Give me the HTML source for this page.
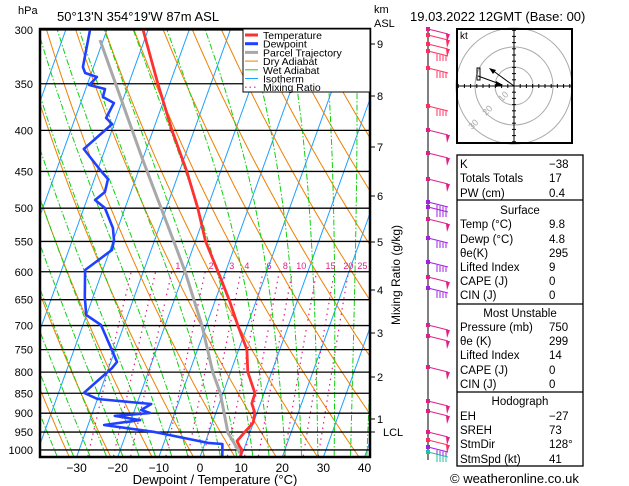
<!DOCTYPE html>
<html><head><meta charset="utf-8"><style>
html,body{margin:0;padding:0;background:#fff;}
svg{display:block;font-family:"Liberation Sans",sans-serif;}
</style></head><body>
<svg id="c" width="629" height="486" viewBox="0 0 629 486"></svg>
<script>
const isobarLevels=[300,350,400,450,500,550,600,650,700,750,800,850,900,950,1000];
const tempP=[300,350,400,450,500,550,600,650,700,750,800,850,875,900,925,950,975,990,1000,1020];
const tempT=[-51.2,-42.9,-35.4,-28.2,-22.3,-17.5,-11.8,-6.7,-2.3,2.0,4.2,7.8,7.9,9.5,9.9,8.7,7.6,8.7,9.6,9.8];
const dewP=[300,333.6,339.4,343.3,351.2,355.3,363.5,369.8,386.1,392.8,422,449.4,459.9,477.3,488.4,499.8,529.3,547.7,563.6,597,645,679,699,777,791,849,864,876.5,891.8,899.5,907,918,931,950,980,983,1020];
const dewT=[-64.1,-62.6,-61.5,-58.3,-59.5,-55.3,-55.1,-51.9,-52.5,-50.5,-55.2,-49.1,-46.7,-46.3,-48.0,-44.9,-41.2,-39.9,-39.5,-44.3,-42.0,-40.1,-35.6,-28.5,-29.2,-33.8,-30.0,-16.5,-18.4,-16.0,-24.3,-17.8,-26.1,-13.1,0.7,4.3,5.4];
const parcelP=[308.7,435.5,563.6,600.3,699,802,849,952.5,1009];
const parcelT=[-60.8,-39.9,-23.7,-19.8,-11.1,-4.2,-0.7,4.7,9.4];
const tempTicks=[-30,-20,-10,0,10,20,30,40];
const mixRatios=[0.4,0.7,1,2,3,4,6,8,10,15,20,25];
const mixLabels=["","","1","2","3","4","6","8","10","15","20","25"];
const kmLabels=["9","8","7","6","5","4","3","2","1"];
const kmY=[44,96,147,196,242,290,333,377,419];

const NS="http://www.w3.org/2000/svg";
const svg=document.getElementById('c');
function Y(p){return 30+348.8*Math.log(p/300);}
function X(T,p){return 200+4.114*T+0.36*(457-Y(p));}
function mk(tag,attrs,parent){const e=document.createElementNS(NS,tag);for(const k in attrs)e.setAttribute(k,attrs[k]);(parent||svg).appendChild(e);return e;}
function txt(s,x,y,attrs,parent){const e=mk('text',Object.assign({x:x,y:y,'font-size':12,fill:'#000'},attrs||{}),parent);e.textContent=s;return e;}
function pts(arr){return arr.map(a=>a[0].toFixed(1)+','+a[1].toFixed(1)).join(' ');}

const defs=mk('defs',{});
const cp=mk('clipPath',{id:'plot'},defs);
mk('rect',{x:40,y:29,width:330,height:428},cp);
const g=mk('g',{'clip-path':'url(#plot)'});



for(let T=-140;T<=40;T+=10){
  const l=mk('line',{x1:X(T,1050),y1:Y(1050),x2:X(T,290),y2:Y(290),stroke:'#1ea0ff','stroke-width':1},g);
  
  
}
for(let th=220;th<=520;th+=10){
  const a=[];for(let p=1050;p>=290;p-=10){a.push([X(th*Math.pow(p/1000,0.2857)-273.15,p),Y(p)]);}
  const l=mk('polyline',{points:pts(a),fill:'none',stroke:'#f08000','stroke-width':1},g);
  
  
}
function es(T){return 6.112*Math.exp(17.67*T/(T+243.5));}
function dTdp(T,p){const Tk=T+273.15;const e=es(T);const rs=0.622*e/(p-e);
  return (287*Tk+2.5e6*rs)/(p*(1004+2.5e6*2.5e6*rs*0.622/(287*Tk*Tk)));}
for(let T0=-40;T0<=40;T0+=4){
  let a=[];let T=T0;
  for(let p=1000;p<1050;p+=5){T+=dTdp(T,p)*5;}
  for(let p=1050;p>=290;p-=5){a.push([X(T,p),Y(p)]);T-=dTdp(T,p)*5;}
  const l=mk('polyline',{points:pts(a),fill:'none',stroke:'#10d010','stroke-width':1,'stroke-dasharray':'6,2,1.5,2'},g);
  
  
}
mixRatios.forEach((w,i)=>{
  const a=[];for(let p=1050;p>=600;p-=10){const e=w*p/(622+w);const L=Math.log(e/6.112);a.push([X(243.5*L/(17.67-L),p),Y(p)]);}
  const l=mk('polyline',{points:pts(a),fill:'none',stroke:'#e0208a','stroke-width':1.2,'stroke-dasharray':'1.5,4'},g);
  
  
  if(mixLabels[i]){const off=w>=15?14:(w>=10?9:6);
    const t=txt(mixLabels[i],a[a.length-1][0]+off,Y(600)-3,{'font-size':9,fill:'#e0208a','text-anchor':'middle'});
    
    }
});
isobarLevels.forEach(p=>{
  const l=mk('line',{x1:40,x2:370,y1:Y(p),y2:Y(p),stroke:'#000','stroke-width':1.3},g);
  
  
  const t=txt(String(p),33,Y(p)+4,{'text-anchor':'end','font-size':11});
  
  
});
function prof(P,T,col,w,name){const a=P.map((p,i)=>[X(T[i],p),Y(p)]);
  const l=mk('polyline',{points:pts(a),fill:'none',stroke:col,'stroke-width':w,'stroke-linejoin':'round'},g);
  
  }
prof(parcelP,parcelT,'#a8a8a8',3,'parcel-trajectory');
prof(dewP,dewT,'#2040ff',2.6,'dewpoint-line');
prof(tempP,tempT,'#ff3030',2.8,'temperature-line');

const bd=mk('rect',{x:40,y:29,width:330,height:428,fill:'none',stroke:'#000','stroke-width':2.5});



const lg=mk('g',{});


mk('rect',{x:243,y:29,width:127,height:63,fill:'#fff',stroke:'#000','stroke-width':1},lg);
[['Temperature','#ff3030',3,''],['Dewpoint','#2040ff',3,''],['Parcel Trajectory','#a8a8a8',3,''],['Dry Adiabat','#f08000',1,''],['Wet Adiabat','#10d010',1,''],['Isotherm','#1ea0ff',1,''],['Mixing Ratio','#e0208a',1.2,'1.5,3']].forEach((e,i)=>{
  const y=35+i*8.7;
  const l=mk('line',{x1:245,x2:258,y1:y,y2:y,stroke:e[1],'stroke-width':e[2],'stroke-dasharray':e[3]},lg);
  
  
  txt(e[0],263,y+4,{'font-size':10.5},lg);
});

tempTicks.forEach(T=>{const t=txt(String(T).replace('-','\u2212'),200+4.114*T,472,{'text-anchor':'middle','font-size':12});
  
  });
const xt=txt('Dewpoint / Temperature (\u00B0C)',215,484,{'text-anchor':'middle','font-size':13});


txt('hPa',18,14,{'font-size':11});
txt('50\u00B013\'N  354\u00B019\'W  87m  ASL',57,21,{'font-size':13});
txt('km',374,13,{'font-size':11});
txt('ASL',374,27,{'font-size':11});
txt('19.03.2022  12GMT  (Base: 00)',410,21,{'font-size':13});
kmLabels.forEach((k,i)=>{mk('line',{x1:370,x2:375,y1:kmY[i],y2:kmY[i],stroke:'#000'});
  const t=txt(k,377,kmY[i]+4,{'font-size':11});
  
  });
mk('line',{x1:370,x2:375,y1:432,y2:432,stroke:'#000'});
txt('LCL',383,436,{'font-size':11});
const mr=txt('Mixing Ratio (g/kg)',0,0,{'font-size':12,'text-anchor':'middle',transform:'translate(400,275) rotate(-90)'});



const wb=mk('g',{});


mk('line',{x1:428,x2:428,y1:29,y2:460,stroke:'#000','stroke-width':1},wb);
const barbs=[[29,'f','#e0208a'],[35,'f','#ff3060'],[44,'f','#ff3060'],[51,'b','#ff3060'],[68,'b','#ff3060'],[106,'b','#ff3060'],[130,'f','#e0208a'],[153,'f','#e0208a'],[179,'f','#e0208a'],[202,'b','#a020e0'],[207,'b','#a020e0'],[219,'f','#e0208a'],[238,'b','#a020e0'],[262,'b','#a020e0'],[277,'f','#e0208a'],[288,'b','#a020e0'],[325,'f','#e0208a'],[336,'f','#e0208a'],[367,'f','#e0208a'],[401,'f','#e0208a'],[411,'f','#e0208a'],[432,'f','#e0208a'],[440,'f','#ff3060'],[447,'b','#a020e0'],[452,'b','#20c0a0']];
barbs.forEach(b=>{const y=b[0],c=b[2];
  mk('rect',{x:426,y:y-2,width:4,height:4,fill:c},wb);
  mk('line',{x1:428,y1:y,x2:448,y2:y+5,stroke:c,'stroke-width':1},wb);
  if(b[1]==='f'){mk('polygon',{points:`${446},${y+5} ${450},${y+5} ${447},${y+13}`,fill:c},wb);}
  else{for(let k=0;k<4;k++){mk('line',{x1:437+k*3,y1:y+3+k*0.7,x2:437+k*3,y2:y+10,stroke:c,'stroke-width':1},wb);}}
});

const hg=mk('g',{});


const hx=514,hy=86;
[19,39,58].forEach(r=>mk('circle',{cx:hx,cy:hy,r:r,fill:'none',stroke:'#aaa','stroke-width':1},hg));
mk('rect',{x:457,y:29,width:115,height:114,fill:'none',stroke:'#000','stroke-width':2},hg);
mk('line',{x1:457,x2:572,y1:hy,y2:hy,stroke:'#000','stroke-width':1},hg);
mk('line',{x1:hx,x2:hx,y1:29,y2:143,stroke:'#000','stroke-width':1},hg);
for(let i=-9;i<=9;i++){mk('line',{x1:hx+i*6.2,x2:hx+i*6.2,y1:hy-2,y2:hy+2,stroke:'#000'},hg);mk('line',{y1:hy+i*6.2,y2:hy+i*6.2,x1:hx-2,x2:hx+2,stroke:'#000'},hg);}
txt('kt',460,39,{'font-size':10},hg);
mk('line',{x1:hx,y1:hy,x2:492,y2:70,stroke:'#000'},hg);
mk('polygon',{points:'489,68 496,70 493,74',fill:'#000'},hg);
mk('line',{x1:478,y1:76,x2:500,y2:84,stroke:'#000'},hg);
mk('polygon',{points:'503,85 496,81 496,87',fill:'#000'},hg);
mk('rect',{x:477,y:68,width:3,height:12,fill:'none',stroke:'#000'},hg);
txt('10',502,102,{'font-size':9,fill:'#aaa',transform:'rotate(-45 502 102)'},hg);
txt('20',486,116,{'font-size':9,fill:'#aaa',transform:'rotate(-45 486 116)'},hg);
txt('30',472,130,{'font-size':9,fill:'#aaa',transform:'rotate(-45 472 130)'},hg);

const tb=mk('g',{});


mk('rect',{x:457,y:155,width:126,height:311,fill:'none',stroke:'#000','stroke-width':1.3},tb);
[200,304,392].forEach(y=>mk('line',{x1:457,x2:583,y1:y,y2:y,stroke:'#000','stroke-width':1.3},tb));
const rows=[['K','\u221238',164],['Totals Totals','17',178],['PW (cm)','0.4',193],
['#Surface','',210],['Temp (\u00B0C)','9.8',224],['Dewp (\u00B0C)','4.8',239],['\u03B8e(K)','295',253],['Lifted Index','9',267],['CAPE (J)','0',281],['CIN (J)','0',295],
['#Most Unstable','',313],['Pressure (mb)','750',327],['\u03B8e (K)','299',341],['Lifted Index','14',355],['CAPE (J)','0',370],['CIN (J)','0',384],
['#Hodograph','',401],['EH','\u221227',416],['SREH','73',430],['StmDir','128\u00B0',444],['StmSpd (kt)','41',459]];
rows.forEach(r=>{
  if(r[0][0]==='#'){txt(r[0].slice(1),520,r[2]+4,{'text-anchor':'middle','font-size':11.5},tb);}
  else{txt(r[0],460,r[2]+4,{'font-size':11.5},tb);txt(r[1],549,r[2]+4,{'font-size':11.5},tb);}
});
txt('\u00A9 weatheronline.co.uk',450,483,{'font-size':13});
</script>
</body></html>
